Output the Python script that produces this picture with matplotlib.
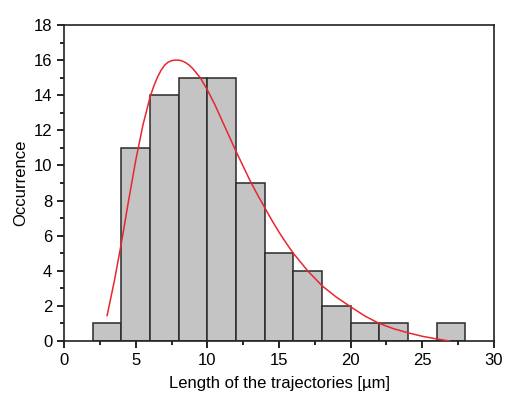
import matplotlib
matplotlib.use('Agg')
import matplotlib.pyplot as plt
from matplotlib.ticker import MultipleLocator

plt.rcParams['font.family'] = ['Liberation Sans', 'DejaVu Sans']

# histogram data (bin edges, counts)
bin_edges = [2, 4, 6, 8, 10, 12, 14, 16, 18, 20, 22, 24, 26, 28]
counts = [1, 11, 14, 15, 15, 9, 5, 4, 2, 1, 1, 0, 1]

# fitted curve
fit_x = [3.0, 3.5, 4.0, 4.5, 5.0, 5.5, 6.0, 6.25, 6.5, 6.75, 7.0, 7.25, 7.5, 7.75,
         8.0, 8.25, 8.5, 8.75, 9.0, 9.5, 10.0, 10.5, 11.0, 11.5, 12.0, 12.5,
         13.0, 13.5, 14.0, 14.5, 15.0, 15.5, 16.0, 17.0, 18.0, 19.0, 20.0, 21.0,
         22.0, 23.0, 24.0, 25.0, 26.0, 26.9]
fit_y = [1.45, 3.4, 5.6, 8.0, 10.3, 12.3, 13.9, 14.5, 15.0, 15.4, 15.7, 15.88, 15.97, 16.0,
         16.0, 15.95, 15.85, 15.7, 15.5, 15.0, 14.3, 13.5, 12.6, 11.7, 10.8, 9.95,
         9.1, 8.33, 7.6, 6.88, 6.2, 5.58, 5.0, 4.0, 3.15, 2.5, 1.95, 1.42,
         1.0, 0.7, 0.47, 0.27, 0.12, 0.0]

fig = plt.figure(figsize=(5.05, 3.97), dpi=100)
ax = fig.add_axes([0.127, 0.141, 0.851, 0.796])

widths = [bin_edges[i + 1] - bin_edges[i] for i in range(len(counts))]
ax.bar(bin_edges[:-1], counts, width=widths, align='edge',
       facecolor='#c3c4c3', edgecolor='#2a2a2a', linewidth=1.1, zorder=2)
ax.plot(fit_x, fit_y, color='#e8262f', linewidth=1.1, zorder=3)

ax.set_xlim(0, 30)
ax.set_ylim(0, 18)
ax.xaxis.set_major_locator(MultipleLocator(5))
ax.xaxis.set_minor_locator(MultipleLocator(2.5))
ax.yaxis.set_major_locator(MultipleLocator(2))
ax.yaxis.set_minor_locator(MultipleLocator(1))
ax.tick_params(which='both', direction='out', top=False, right=False,
               width=1.2, labelsize=12, colors='black')
ax.tick_params(which='major', length=5)
ax.tick_params(which='minor', length=3)
for s in ax.spines.values():
    s.set_linewidth(1.2)
    s.set_color('#222222')

ax.set_xlabel('Length of the trajectories [µm]', fontsize=12, labelpad=6)
ax.set_ylabel('Occurrence', fontsize=12)

fig.savefig('out.png', dpi=100)
